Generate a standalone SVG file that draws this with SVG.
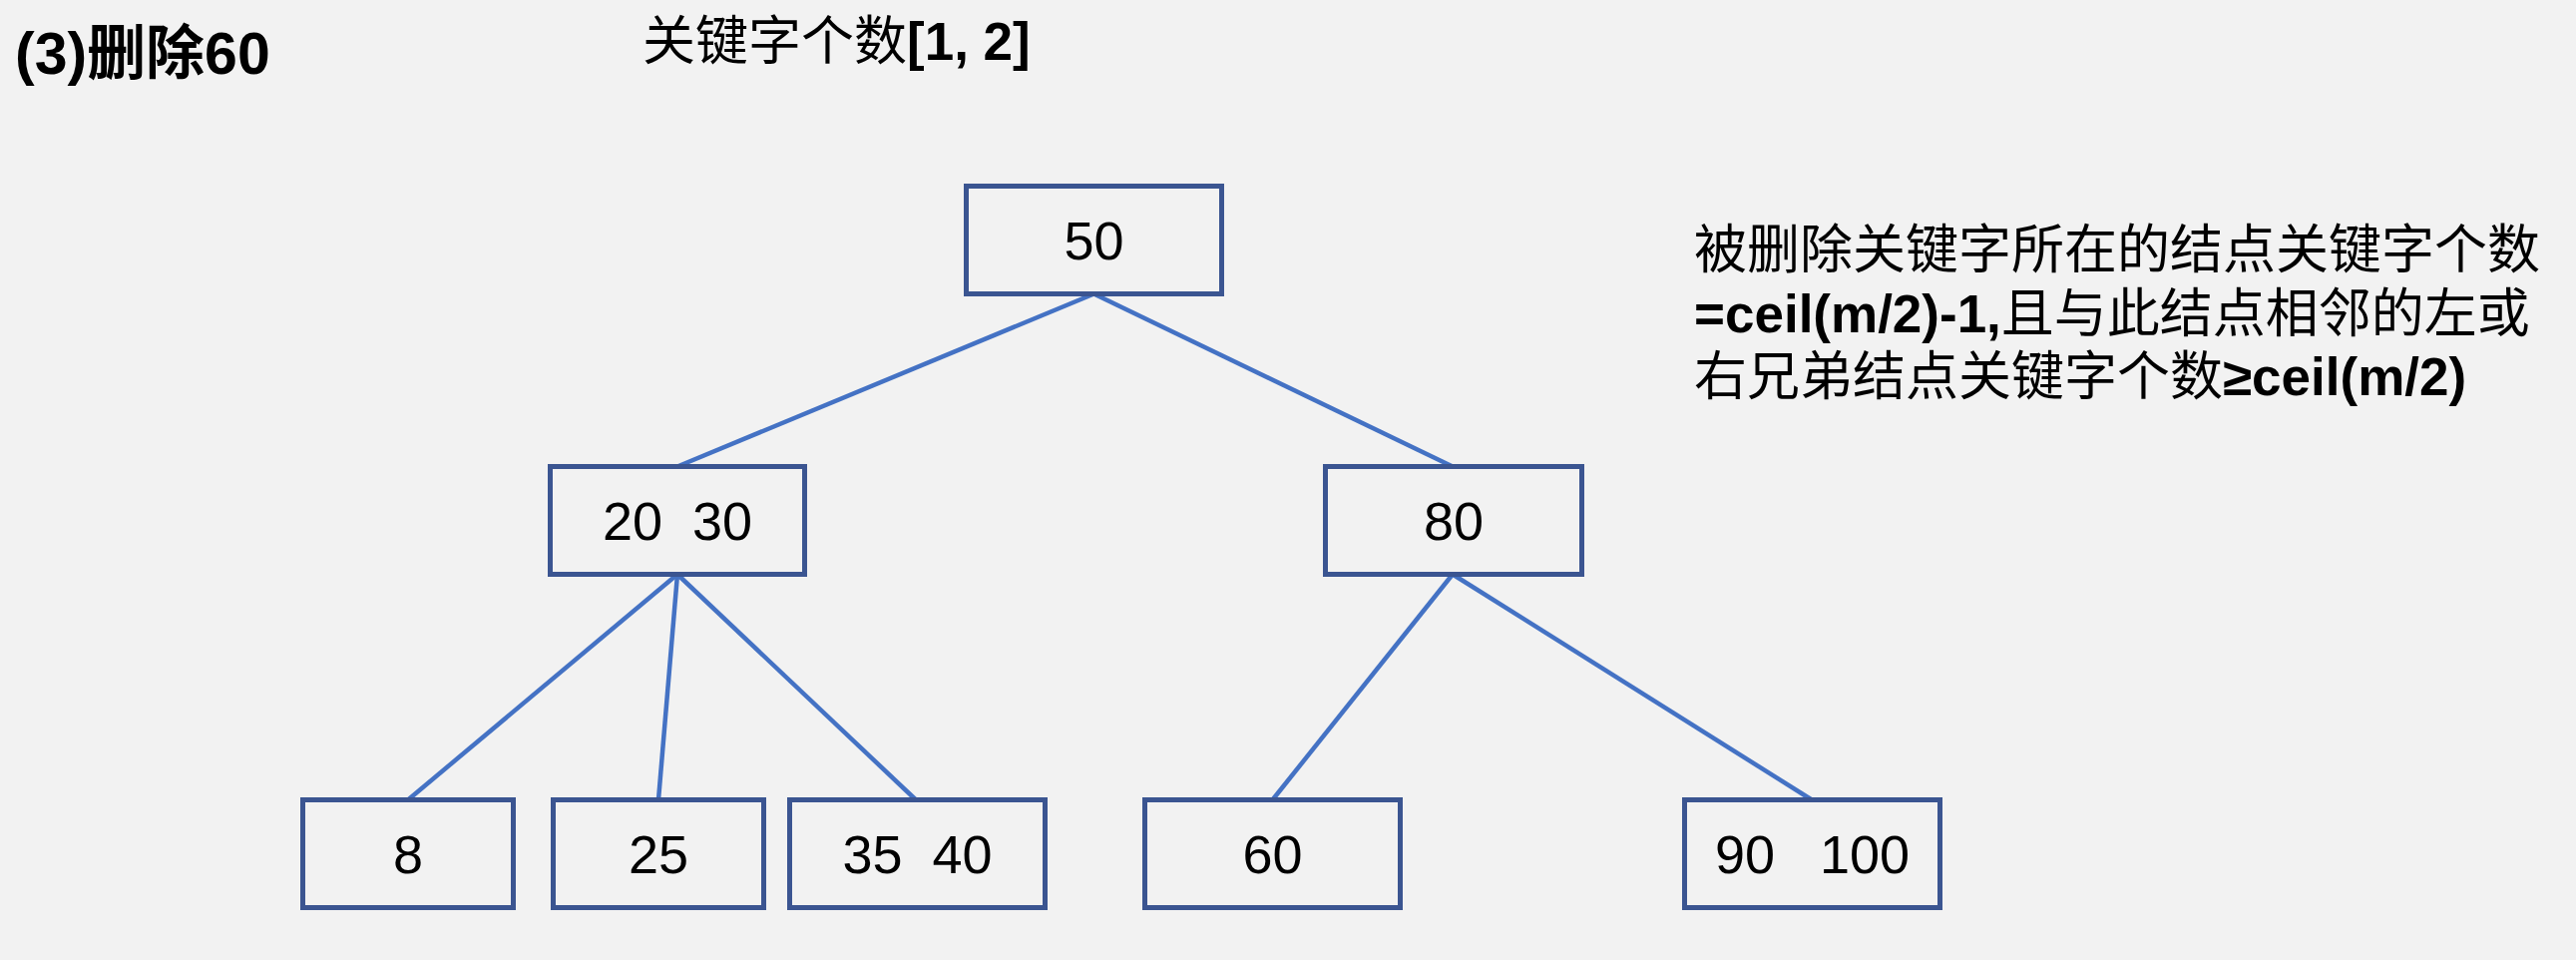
<svg xmlns="http://www.w3.org/2000/svg" width="2582" height="962" viewBox="0 0 2582 962">
  <style>
    .bg { fill: #F2F2F2; }
    .box { fill: #F2F2F2; stroke: #3B5591; stroke-width: 5; }
    .edge { stroke: #4472C4; stroke-width: 4.5; fill: none; stroke-linecap: butt; }
    .key { font-family: "Liberation Sans", "Noto Sans CJK SC", sans-serif; font-size: 54px; fill: #000; text-anchor: middle; white-space: pre; }
    .txt { font-family: "Liberation Sans", "Noto Sans CJK SC", sans-serif; font-size: 53px; fill: #000; white-space: pre; }
    .title { font-family: "Liberation Sans", "Noto Sans CJK SC", sans-serif; font-size: 59px; font-weight: bold; fill: #000; }
    .b { font-weight: bold; }
  </style>
  <rect class="bg" x="0" y="0" width="2582" height="962"/>

  <g id="labels">
    <text class="title" x="15" y="74">(3)删除60</text>
    <text class="txt" x="644" y="60">关键字个数<tspan class="b">[1, 2]</tspan></text>
    <text class="txt" x="1698" y="269">被删除关键字所在的结点关键字个数</text>
    <text class="txt" x="1698" y="332.5"><tspan class="b">=ceil(m/2)-1,</tspan>且与此结点相邻的左或</text>
    <text class="txt" x="1698" y="396">右兄弟结点关键字个数<tspan class="b">≥ceil(m/2)</tspan></text>
  </g>

  <g id="connectors">
    <line class="edge" x1="1096.5" y1="294.5" x2="679" y2="467.5"/>
    <line class="edge" x1="1096.5" y1="294.5" x2="1456" y2="467.5"/>
    <line class="edge" x1="679" y1="575.5" x2="409" y2="801.5"/>
    <line class="edge" x1="679" y1="575.5" x2="660" y2="801.5"/>
    <line class="edge" x1="679" y1="575.5" x2="918" y2="801.5"/>
    <line class="edge" x1="1456" y1="575.5" x2="1275.5" y2="801.5"/>
    <line class="edge" x1="1456" y1="575.5" x2="1816" y2="801.5"/>
  </g>

  <g id="node-50">
    <rect class="box" x="968.5" y="186.5" width="256" height="108"/>
    <text class="key" x="1096.5" y="259.5">50</text>
  </g>
  <g id="node-20-30">
    <rect class="box" x="551.5" y="467.5" width="255" height="108"/>
    <text class="key" x="679" y="541">20  30</text>
  </g>
  <g id="node-80">
    <rect class="box" x="1328.5" y="467.5" width="257" height="108"/>
    <text class="key" x="1457" y="541">80</text>
  </g>
  <g id="node-8">
    <rect class="box" x="303.5" y="801.5" width="211" height="108"/>
    <text class="key" x="409" y="875">8</text>
  </g>
  <g id="node-25">
    <rect class="box" x="554.5" y="801.5" width="211" height="108"/>
    <text class="key" x="660" y="875">25</text>
  </g>
  <g id="node-35-40">
    <rect class="box" x="791.5" y="801.5" width="256" height="108"/>
    <text class="key" x="919.5" y="875">35  40</text>
  </g>
  <g id="node-60">
    <rect class="box" x="1147.5" y="801.5" width="256" height="108"/>
    <text class="key" x="1275.5" y="875">60</text>
  </g>
  <g id="node-90-100">
    <rect class="box" x="1688.5" y="801.5" width="256" height="108"/>
    <text class="key" x="1816.5" y="875">90   100</text>
  </g>
</svg>
